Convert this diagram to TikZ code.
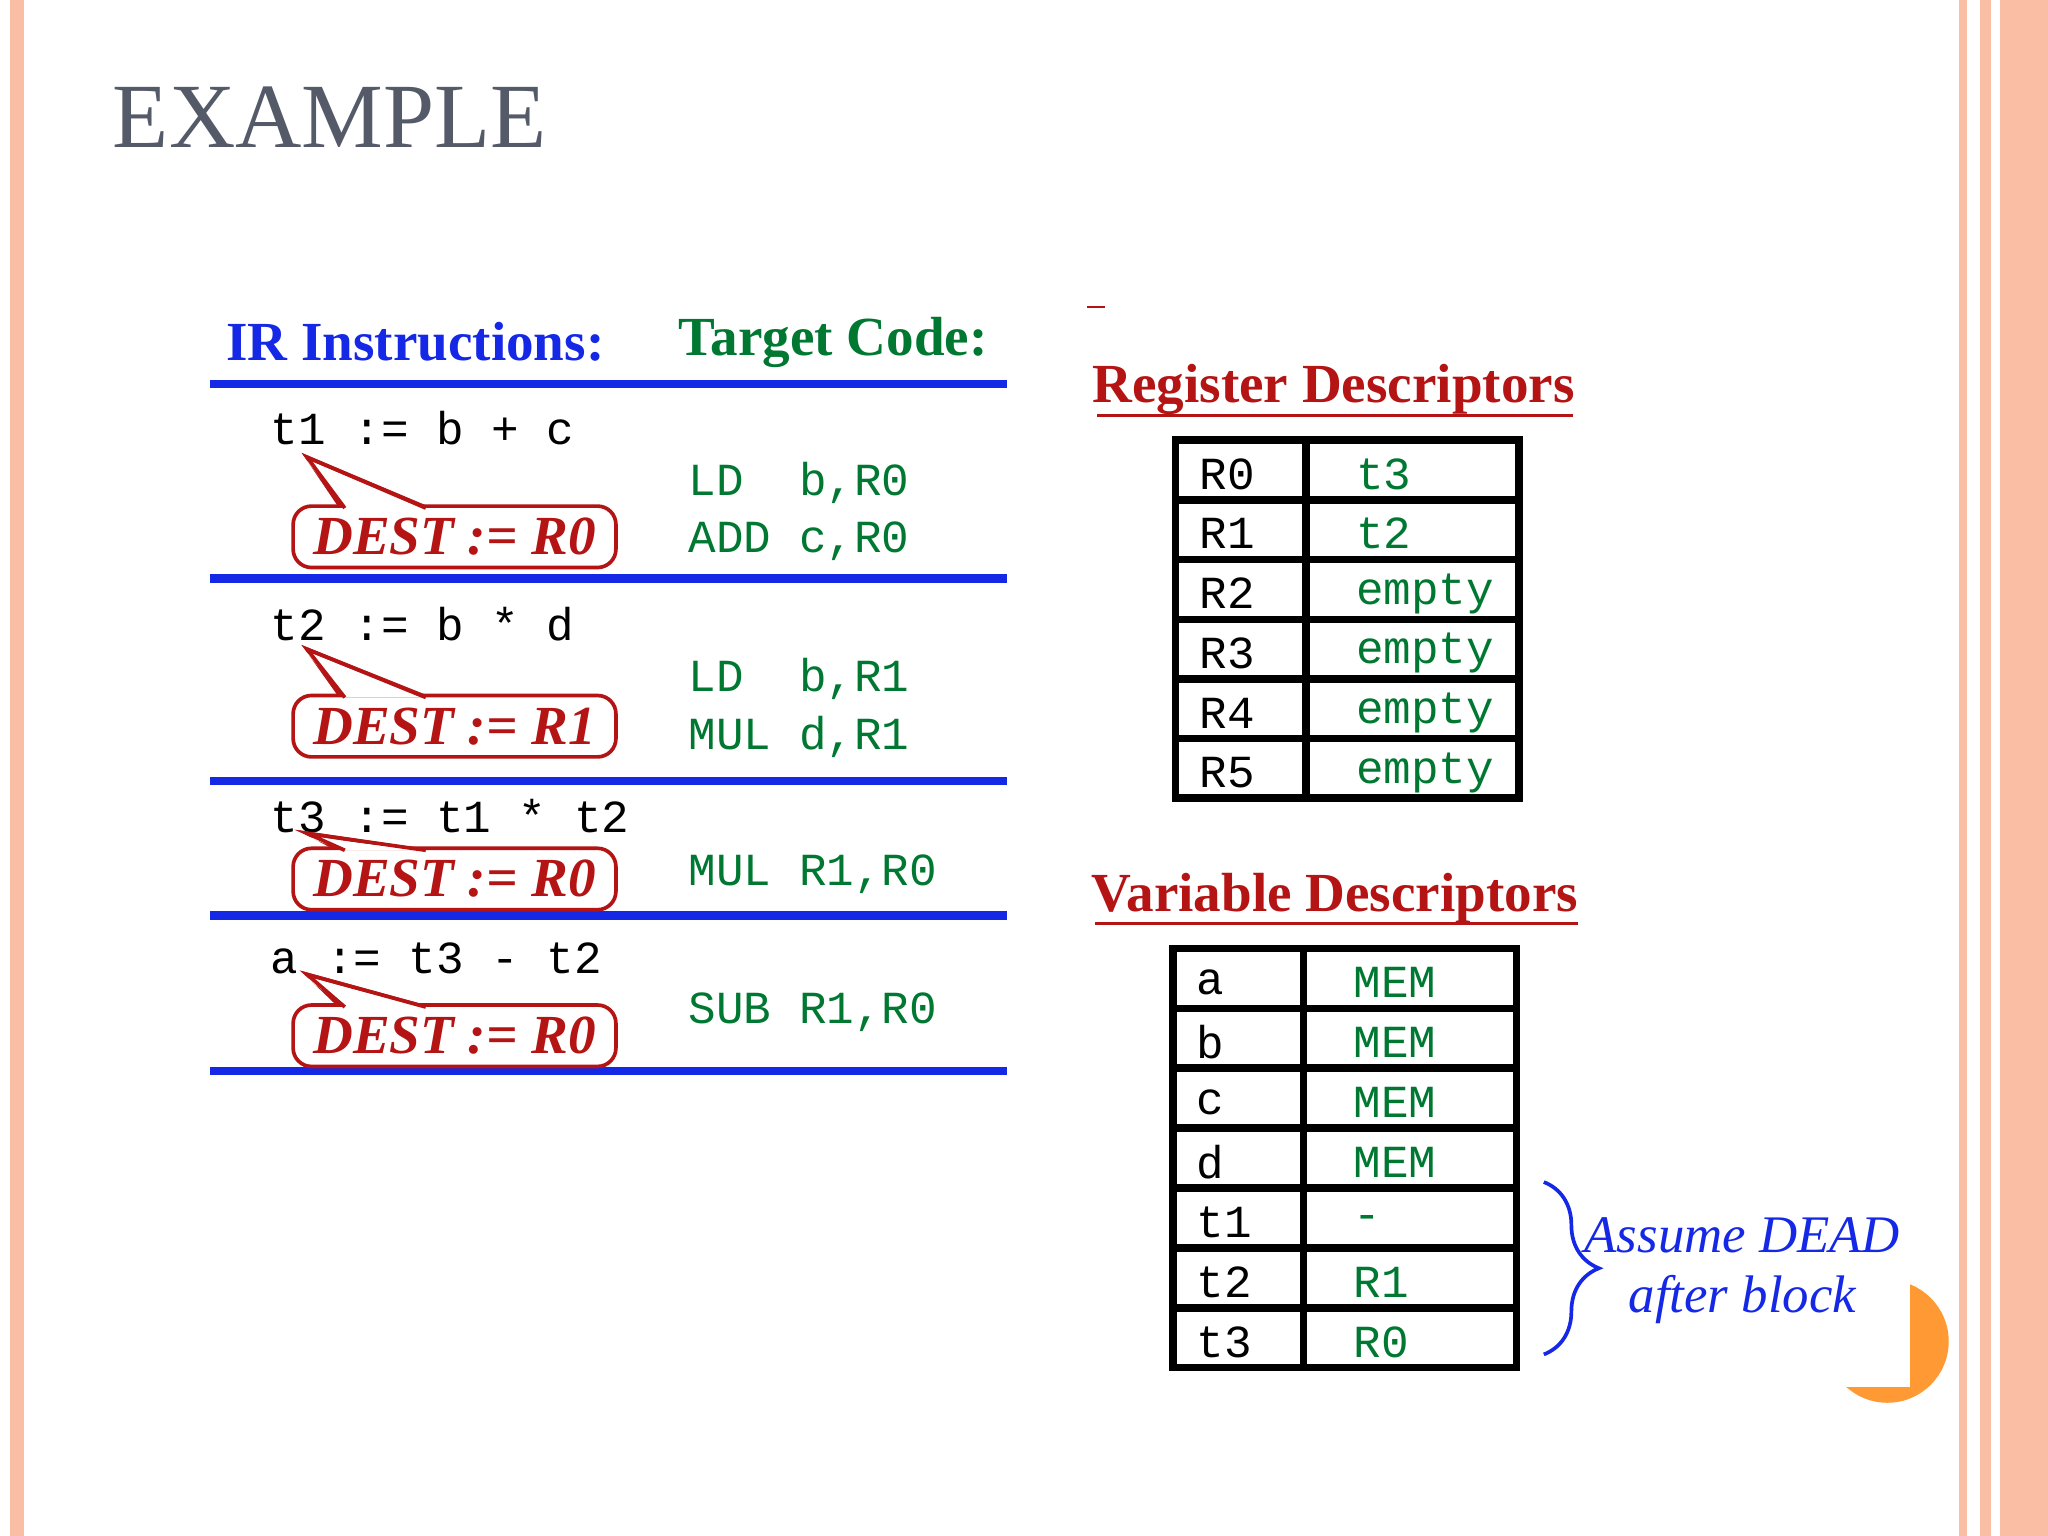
\documentclass[tikz,border=0pt]{standalone}
\usepackage{fontspec}
\setmainfont{Liberation Serif}
\setmonofont{Liberation Mono}
\usetikzlibrary{positioning,decorations.pathreplacing}
\definecolor{peach}{RGB}{250,190,165}
\definecolor{irblue}{RGB}{20,40,230}
\definecolor{codegreen}{RGB}{0,120,50}
\definecolor{destred}{RGB}{180,20,20}
\definecolor{titlegray}{RGB}{85,90,105}
\tikzset{
  ir/.style={anchor=west, font=\ttfamily\fontsize{10}{12}\selectfont},
  tc/.style={anchor=west, text=codegreen, font=\ttfamily\fontsize{10}{12}\selectfont},
  dest/.style={draw=destred, thick, rounded corners=4pt, fill=white, text=destred,
    minimum width=2.47cm, minimum height=0.47cm, inner sep=1pt,
    font=\bfseries\itshape\fontsize{12}{14}\selectfont},
  sep/.style={draw=irblue, line width=1.8pt},
  cell/.style={anchor=west, font=\ttfamily\fontsize{10}{12}\selectfont},
  grid/.style={line width=1.6pt},
  hdr/.style={font=\bfseries\fontsize{12}{14}\selectfont}
}
\begin{document}
\begin{tikzpicture}[x=0.01cm, y=-0.01cm]
\useasboundingbox (0,0) rectangle (1568,1176);
% frame
\fill[peach] (8,0) rectangle (18,1176);
\fill[peach] (1500,0) rectangle (1506,1176);
\fill[peach] (1516,0) rectangle (1568,1176);
\draw[white, line width=2pt] (1528,0) -- (1528,1176);
\fill[orange!80] (1445,1027) circle (47);
\fill[white] (1395,975) rectangle (1462,1062);
\node[anchor=west, text=titlegray, font=\fontsize{20}{24}\selectfont] (title) at (74,90) {EXAMPLE};
% headings
\node[hdr, text=irblue] (irh) at (318,262) {IR Instructions:};
\node[hdr, text=codegreen] (tch) at (638,262) {Target Code:};
\foreach \y/\n in {294/s0,443/s1,598/s2,701/s3,820/s4}
  \draw[sep] (161,\y) -- (771,\y) coordinate (\n);
% instructions
\node[ir] (i1) at (195,328) {t1 := b + c};
\node[ir] (i2) at (195,478) {t2 := b * d};
\node[ir] (i3) at (195,625) {t3 := t1 * t2};
\node[ir] (i4) at (195,734) {a := t3 - t2};
\foreach \n/\y/\t/\ty/\r in {d1/411/350/388/R0, d2/555/497/533/R1, d3/673/638/650/R0, d4/793/746/770/R0}{
  \draw[destred, thick, fill=white] (262,\ty+2) -- (235,\t) -- (330,\ty+2);
  \node[dest] (\n) at (348,\ty+23) {DEST := \r};
  \fill[white] (264,\ty+1) -- (235,\t+3) -- (326,\ty+1) -- cycle;
  \draw[destred, thick] (264,\ty+1) -- (235,\t) -- (326,\ty+1);
}
% target code
\node[tc] (c1) at (515,370) {LD\ \ b,R0};
\node[tc] (c2) at (515,414) {ADD c,R0};
\node[tc] (c3) at (515,520) {LD\ \ b,R1};
\node[tc] (c4) at (515,564) {MUL d,R1};
\node[tc] (c5) at (515,669) {MUL R1,R0};
\node[tc] (c6) at (515,775) {SUB R1,R0};
% register descriptors
\draw[destred] (832,235) -- (846,235);
\node[hdr, text=destred] (regh) at (1021,298) {Register Descriptors};
\draw[destred, thick] (840,318) -- (1204,318);
\draw[grid] (900,337) rectangle (1163,611);
\draw[grid] (1000,337) -- (1000,611);
\foreach \r/\v [count=\i from 0] in {R0/t3,R1/t2,R2/empty,R3/empty,R4/empty,R5/empty}{
  \pgfmathsetmacro\yy{337+45.7*\i}
  \ifnum\i>0 \draw[grid] (900,\yy) -- (1163,\yy); \fi
  \node[cell] (rk\i) at (906,\yy+26) {\r};
  \node[cell, text=codegreen] (rv\i) at (1026,\yy+26) {\v};
}
% variable descriptors
\node[hdr, text=destred] (varh) at (1022,688) {Variable Descriptors};
\draw[destred, thick] (838,707) -- (1208,707);
\draw[grid] (898,726) rectangle (1161,1047);
\draw[grid] (998,726) -- (998,1047);
\foreach \r/\v [count=\i from 0] in {a/MEM,b/MEM,c/MEM,d/MEM,t1/-,t2/R1,t3/R0}{
  \pgfmathsetmacro\yy{726+45.9*\i}
  \ifnum\i>0 \draw[grid] (898,\yy) -- (1161,\yy); \fi
  \node[cell] (vk\i) at (904,\yy+26) {\r};
  \node[cell, text=codegreen] (vv\i) at (1024,\yy+26) {\v};
}
\draw[irblue, thick, decorate, decoration={brace, amplitude=12pt}] (1182,905) -- (1182,1037) coordinate (brb);
\node[text=irblue, font=\itshape\fontsize{11.5}{13}\selectfont, align=center, inner sep=0pt] (dead) at (1334,973) {Assume DEAD\\after block};
\end{tikzpicture}
\end{document}
